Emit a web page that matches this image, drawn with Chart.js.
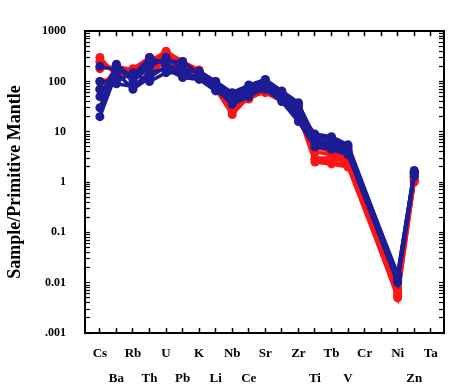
<!DOCTYPE html>
<html>
<head>
<meta charset="utf-8">
<script src="https://cdn.jsdelivr.net/npm/chart.js@4.4.0/dist/chart.umd.min.js"></script>
<style>
  html, body { margin: 0; padding: 0; background: #fff; }
  #wrap { width: 451px; height: 388px; position: relative; }
</style>
</head>
<body>
<div id="wrap"><canvas id="myChart"></canvas></div>
<script>
// element order on the x axis (blank = unlabelled slot)
var elements = ['Cs','Ba','Rb','Th','U','Pb','K','Li','Nb','Ce','Sr','','Zr','Ti','Tb','V','Cr','','Ni','Zn','Ta'];
var yTickLabels = ['.001','0.01','0.1','1','10','100','1000'];

// red samples
var red1 = [250,150,160,200,350,200,150,90,30,60,80,50,30,5,4,3,null,null,0.006,1.2,null];
var red2 = [180,200,170,250,400,250,170,80,25,55,70,45,28,3,3,2.5,null,null,0.005,1.0,null];
var red3 = [100,120,140,150,250,160,130,70,22,50,60,40,25,2.8,2.5,2.2,null,null,0.007,1.1,null];
var red4 = [70,180,180,300,300,180,160,100,40,70,90,55,35,4,3.5,2.8,null,null,0.008,1.3,null];
var red5 = [300,130,150,180,280,220,140,85,28,45,65,42,22,2.5,2.3,2,null,null,0.0055,1.05,null];

// blue samples
var blue1 = [20,150,70,120,200,130,130,75,40,60,95,55,30,7,6,4.5,null,null,0.012,1.5,null];
var blue2 = [50,200,100,200,300,180,150,90,50,70,105,60,35,8,7,5,null,null,0.015,1.6,null];
var blue3 = [100,100,150,100,150,150,120,70,35,50,80,45,20,6,5,4,null,null,0.011,1.4,null];
var blue4 = [30,220,120,250,250,250,140,80,55,80,90,50,25,9,8,5.5,null,null,0.013,1.7,null];
var blue5 = [70,90,80,150,180,120,110,65,45,55,70,40,16,5,4.5,3.5,null,null,0.010,1.3,null];
var blue6 = [200,170,130,300,220,160,160,100,60,85,110,65,38,6.5,6,4,null,null,0.014,1.55,null];

var redSeries = [red1, red2, red3, red4, red5];
var blueSeries = [blue1, blue2, blue3, blue4, blue5, blue6];

var RED = '#ff1414';
var BLUE = '#1c1c96';
var serif = 'Liberation Serif';

function toPoints(arr) {
	var pts = [];
	for (var i = 0; i < arr.length; i++) {
		pts.push({x: i, y: arr[i]});
	}
	return pts;
}

function makeSet(arr, color, order) {
	return {
		data: toPoints(arr),
		borderColor: color,
		backgroundColor: color,
		borderWidth: 3.5,
		pointRadius: 4.5,
		pointBorderWidth: 0,
		pointStyle: 'circle',
		spanGaps: true,
		order: order,
		xAxisID: 'x',
		yAxisID: 'y'
	};
}

var datasets = [];
blueSeries.forEach(function(s){ datasets.push(makeSet(s, BLUE, 1)); });
redSeries.forEach(function(s){ datasets.push(makeSet(s, RED, 2)); });

function elementTicks(scale) {
	scale.ticks = elements.map(function(e, i){ return {value: i}; });
}

function logTicks(scale) {
	var t = [];
	for (var e = -3; e <= 2; e++) {
		for (var s = 1; s <= 9; s++) {
			t.push({value: parseFloat((s * Math.pow(10, e)).toPrecision(3))});
		}
	}
	t.push({value: 1000});
	scale.ticks = t;
}

var frame = {display: true, color: '#000', width: 2};

new Chart(document.getElementById('myChart'), {
	type: 'line',
	data: {datasets: datasets},
	options: {
		responsive: true,
		maintainAspectRatio: false,
		animation: false,
		layout: {padding: 0},
		plugins: {
			legend: {display: false},
			tooltip: {enabled: false}
		},
		scales: {
			x: {
				type: 'linear',
				position: 'bottom',
				min: -0.9,
				max: 20.8,
				afterBuildTicks: elementTicks,
				afterFit: function(s){ s.height = 55; },
				border: frame,
				grid: {drawOnChartArea: false, tickLength: -5, color: '#000', tickWidth: 1.5},
				ticks: {
					autoSkip: false,
					maxRotation: 0,
					padding: 13,
					color: '#000',
					font: {family: serif, weight: 'bold', size: 13, lineHeight: 1.95},
					callback: function(v){
						var n = elements[v];
						return v % 2 === 0 ? [n, ''] : ['', n];
					}
				}
			},
			x2: {
				type: 'linear',
				position: 'top',
				min: -0.9,
				max: 20.8,
				afterBuildTicks: elementTicks,
				afterFit: function(s){ s.height = 24; },
				border: frame,
				grid: {drawOnChartArea: false, tickLength: -5, color: '#000', tickWidth: 1.5},
				ticks: {display: false}
			},
			y: {
				type: 'logarithmic',
				position: 'left',
				min: 0.001,
				max: 1000,
				afterBuildTicks: logTicks,
				afterFit: function(s){ s.width = 85; },
				border: frame,
				grid: {drawOnChartArea: false, tickLength: -5, color: '#000', tickWidth: 1.2},
				title: {
					display: true,
					text: 'Sample/Primitive Mantle',
					color: '#000',
					font: {family: serif, weight: 'bold', size: 18},
					padding: {top: 5, bottom: 0}
				},
				ticks: {
					autoSkip: false,
					padding: 24,
					color: '#000',
					font: {family: serif, weight: 'bold', size: 12},
					callback: function(v){
						var k = Math.round(Math.log10(v));
						if (Math.abs(Math.pow(10, k) - v) / v < 1e-6) {
							return yTickLabels[k + 3];
						}
						return '';
					}
				}
			},
			y2: {
				type: 'logarithmic',
				position: 'right',
				min: 0.001,
				max: 1000,
				afterBuildTicks: logTicks,
				afterFit: function(s){ s.width = 4; },
				border: frame,
				grid: {drawOnChartArea: false, tickLength: -5, color: '#000', tickWidth: 1.2},
				ticks: {display: false}
			}
		}
	}
});
</script>
</body>
</html>
